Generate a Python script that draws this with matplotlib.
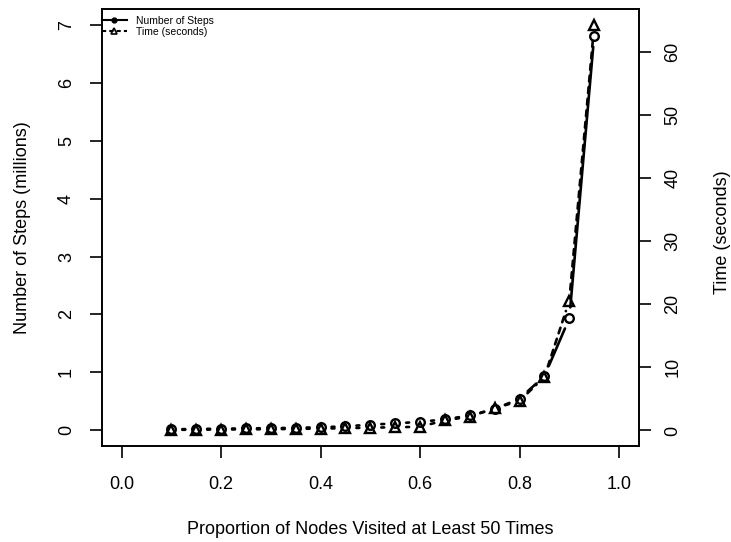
import numpy as np
import matplotlib

matplotlib.use("Agg")
import matplotlib.pyplot as plt
from matplotlib.lines import Line2D

plt.rcParams["font.family"] = ["Liberation Sans", "DejaVu Sans"]

# proportion of nodes visited at least 50 times
proportion = [0.10, 0.15, 0.20, 0.25, 0.30, 0.35, 0.40, 0.45, 0.50,
              0.55, 0.60, 0.65, 0.70, 0.75, 0.80, 0.85, 0.90, 0.95]
# number of steps, millions (left axis)
steps_m = [0.01, 0.015, 0.02, 0.025, 0.03, 0.035, 0.045, 0.06, 0.09,
           0.11, 0.14, 0.18, 0.25, 0.36, 0.54, 0.93, 1.93, 6.82]
# time in seconds (right axis)
time_s = [0.1, 0.12, 0.15, 0.18, 0.2, 0.25, 0.3, 0.35, 0.45,
          0.5, 0.6, 1.6, 2.2, 3.5, 4.7, 8.5, 20.6, 64.2]

x_ticks = [0.0, 0.2, 0.4, 0.6, 0.8, 1.0]
left_ticks = [0, 1, 2, 3, 4, 5, 6, 7]
right_ticks = [0, 10, 20, 30, 40, 50, 60]

LW = 1.9
GAP = 11  # px gap around points, like R type="b"
FS = 13


def r_range(lo, hi):
    pad = 0.04 * (hi - lo)
    return lo - pad, hi + pad


def draw_b(ax, x, y, marker, ms, ls):
    """Lines with gaps around the points (R type='b')."""
    pts = ax.transData.transform(np.column_stack([x, y]))
    inv = ax.transData.inverted()
    for p0, p1 in zip(pts[:-1], pts[1:]):
        d = p1 - p0
        length = np.hypot(*d)
        if length <= 2 * GAP:
            continue
        u = d / length
        a = inv.transform(p0 + u * GAP)
        b = inv.transform(p1 - u * GAP)
        ax.plot([a[0], b[0]], [a[1], b[1]], color="black", lw=LW, ls=ls,
                solid_capstyle="round", dash_capstyle="round",
                dashes=(2.2, 2.2) if ls == "--" else (None, None))
    ax.plot(x, y, ls="none", marker=marker, ms=ms, mfc="none", mec="black",
            mew=1.7)


fig = plt.figure(figsize=(7.31, 5.42), dpi=100)
ax1 = fig.add_axes([0.1391, 0.1771, 0.7350, 0.8057])
ax2 = ax1.twinx()

ax1.set_xlim(r_range(0, 1))
ax1.set_ylim(r_range(0, 7))
ax2.set_ylim(r_range(min(time_s), max(time_s)))

draw_b(ax1, proportion, steps_m, "o", 6.2, "-")
draw_b(ax2, proportion, time_s, "^", 7.8, "--")

for ax in (ax1, ax2):
    for sp in ax.spines.values():
        sp.set_linewidth(1.2)

ax1.set_xticks(x_ticks)
ax1.set_xticklabels([f"{v:.1f}" for v in x_ticks])
ax1.set_yticks(left_ticks)
ax2.set_yticks(right_ticks)
ax1.tick_params(axis="x", length=8.3, width=1.2, pad=13, labelsize=FS)
ax1.tick_params(axis="y", length=8.3, width=1.2, pad=11, labelsize=FS,
                labelrotation=90)
ax2.tick_params(axis="y", length=8.3, width=1.2, pad=10, labelsize=FS,
                labelrotation=90)
for lab in ax1.get_yticklabels() + ax2.get_yticklabels():
    lab.set_va("center")

ax1.set_xlabel("Proportion of Nodes Visited at Least 50 Times", fontsize=FS,
               va="center")
ax1.xaxis.set_label_coords(0.5, -0.192)
ax1.set_ylabel("Number of Steps (millions)", fontsize=FS, va="center")
ax1.yaxis.set_label_coords(-0.148, 0.5)
ax2.set_ylabel("Time (seconds)", fontsize=FS, va="center", rotation=90)
ax2.yaxis.set_label_coords(1.156, 0.49)

handles = [
    Line2D([], [], color="black", lw=1.5, marker="o", ms=3.5, mfc="black"),
    Line2D([], [], color="black", lw=1.5, ls="--", dashes=(2, 1.5),
           marker="^", ms=4.5, mfc="none", mew=1.2),
]
ax2.legend(handles, ["Number of Steps", "Time (seconds)"], loc="upper left",
           bbox_to_anchor=(0.0, 0.985), frameon=False, fontsize=7.5,
           handlelength=2.4, handletextpad=0.9, labelspacing=0.12,
           borderpad=0.0, borderaxespad=0.0)

fig.savefig("out.png", dpi=100)
